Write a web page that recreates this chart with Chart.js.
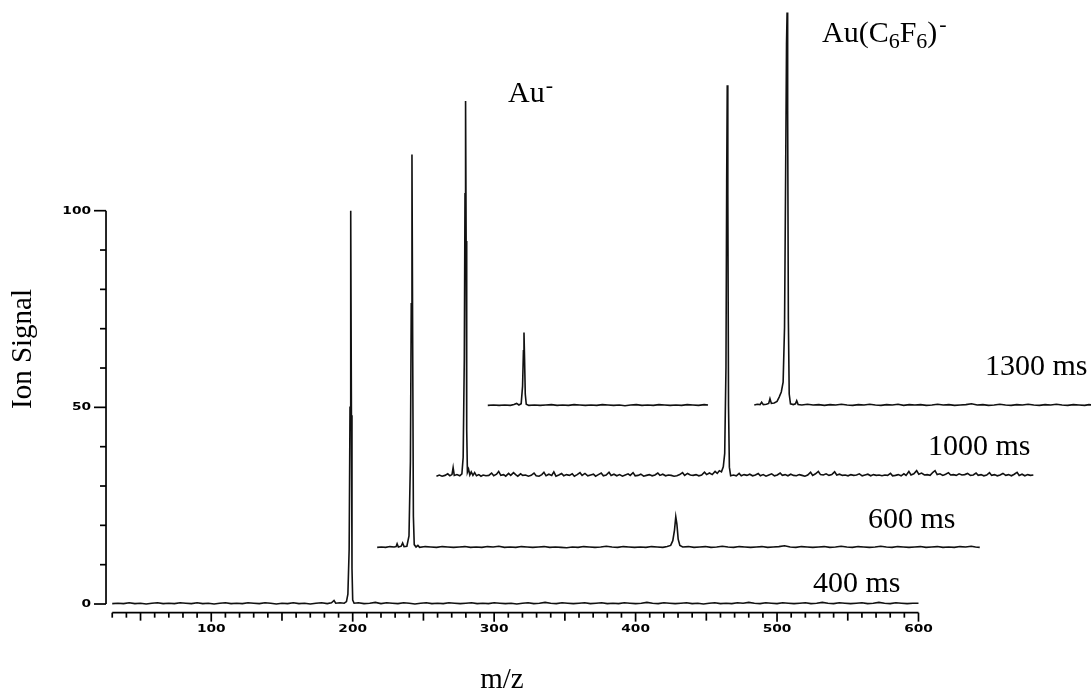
<!DOCTYPE html>
<html>
<head>
<meta charset="utf-8">
<title>Ion Signal vs m/z</title>
<script src="https://cdn.jsdelivr.net/npm/chart.js@4.4.1/dist/chart.umd.min.js"></script>
<style>
  html, body { margin: 0; padding: 0; background: #fff; }
  #wrap { width: 1091px; height: 689px; position: relative; }
</style>
</head>
<body>
<div id="wrap"><canvas id="spectrum"></canvas></div>
<script>
// one spectrum per storage time, [m/z, ion signal]
const traceLabels = ['400 ms', '600 ms', '1000 ms', '1300 ms'];

const trace400 = [
  [30,0.1],[34,0.2],[38,0.1],[42,0.3],[46,0.1],[50,0.2],[54,0.0],[58,0.2],[62,0.3],[66,0.1],
  [70,0.2],[74,0.1],[78,0.3],[82,0.2],[86,0.1],[90,0.3],[94,0.1],[98,0.2],[102,0.0],[106,0.2],
  [110,0.3],[114,0.1],[118,0.2],[122,0.1],[126,0.3],[130,0.2],[134,0.1],[138,0.3],[142,0.2],[146,0.0],
  [150,0.2],[154,0.1],[158,0.3],[162,0.1],[166,0.2],[170,0.0],[174,0.2],[178,0.3],[182,0.1],[185,0.3],
  [186.8,0.9],[188,0.2],[191,0.3],[194,0.2],[195.6,0.6],[196.6,2.5],[197.5,14],[198.1,50],[198.6,100],[199.1,48],
  [199.5,9],[200,1.0],[201,0.2],[204,0.3],[208,0.1],[212,0.2],[216,0.4],[220,0.1],[224,0.3],[228,0.2],
  [232,0.1],[236,0.3],[240,0.2],[244,0.0],[248,0.2],[252,0.3],[256,0.1],[260,0.2],[264,0.1],[268,0.3],
  [272,0.2],[276,0.1],[280,0.2],[284,0.3],[288,0.1],[292,0.2],[296,0.1],[300,0.3],[304,0.2],[308,0.1],
  [312,0.2],[316,0.0],[320,0.2],[324,0.3],[328,0.1],[332,0.2],[336,0.4],[340,0.2],[344,0.1],[348,0.3],
  [352,0.2],[356,0.1],[360,0.2],[364,0.3],[368,0.1],[372,0.2],[376,0.3],[380,0.1],[384,0.2],[388,0.1],
  [392,0.3],[396,0.2],[400,0.1],[404,0.2],[408,0.4],[412,0.2],[416,0.1],[420,0.3],[424,0.2],[428,0.1],
  [432,0.2],[436,0.3],[440,0.1],[444,0.2],[448,0.0],[452,0.2],[456,0.3],[460,0.1],[464,0.2],[468,0.1],
  [472,0.3],[476,0.2],[480,0.4],[484,0.2],[488,0.1],[492,0.3],[496,0.2],[500,0.1],[504,0.3],[508,0.2],
  [512,0.1],[516,0.2],[520,0.3],[524,0.1],[528,0.2],[532,0.4],[536,0.2],[540,0.1],[544,0.3],[548,0.2],
  [552,0.1],[556,0.2],[560,0.3],[564,0.1],[568,0.2],[572,0.4],[576,0.2],[580,0.1],[584,0.3],[588,0.2],
  [592,0.1],[596,0.2],[600,0.2]
];

const trace600 = [
  [174,0.1],[177,0.2],[180,0.1],[183,0.3],[186,0.2],[187.4,0.3],[188.1,1.0],[189,0.2],[191,0.4],[192,1.2],
  [193,0.3],[195,0.4],[196.5,3],[197.5,22],[198.1,62],[198.6,100],[199.1,52],[199.6,8],[200.2,0.8],[201.5,0.2],
  [202.8,0.6],[204,0.1],[208,0.3],[212,0.2],[216,0.1],[220,0.3],[224,0.2],[228,0.1],[232,0.2],[236,0.3],
  [240,0.1],[244,0.2],[248,0.1],[252,0.3],[256,0.2],[260,0.4],[264,0.1],[268,0.2],[272,0.1],[276,0.3],
  [280,0.2],[284,0.1],[288,0.2],[292,0.3],[296,0.1],[300,0.2],[304,0.1],[308,0.0],[312,0.2],[316,0.1],
  [320,0.3],[324,0.2],[328,0.1],[332,0.2],[336,0.4],[340,0.2],[344,0.1],[348,0.3],[352,0.2],[356,0.1],
  [360,0.2],[364,0.1],[368,0.3],[372,0.2],[376,0.1],[379,0.3],[381.5,0.6],[383,1.8],[384.2,4.5],[385.1,7.9],
  [385.9,6.0],[386.8,2.2],[388,0.6],[390,0.2],[394,0.3],[398,0.1],[402,0.2],[406,0.3],[410,0.1],[414,0.2],
  [418,0.4],[422,0.2],[426,0.1],[430,0.3],[434,0.2],[438,0.1],[442,0.2],[446,0.3],[450,0.1],[454,0.2],
  [458,0.3],[462,0.5],[466,0.2],[470,0.1],[474,0.3],[478,0.2],[482,0.1],[486,0.2],[490,0.3],[494,0.1],
  [498,0.2],[502,0.4],[506,0.2],[510,0.1],[514,0.3],[518,0.2],[522,0.1],[526,0.2],[530,0.4],[534,0.2],
  [538,0.1],[542,0.3],[546,0.2],[550,0.1],[554,0.2],[558,0.3],[562,0.1],[566,0.2],[570,0.3],[574,0.1],
  [578,0.2],[582,0.1],[586,0.3],[590,0.2],[594,0.4],[597,0.2],[600,0.1]
];

const trace1000 = [
  [178,0.2],[180,0.5],[182,0.2],[184,0.4],[186,0.8],[187.5,0.3],[189,0.6],[189.8,2.4],[190.6,0.4],[192.5,0.6],
  [194.5,0.3],[196,0.8],[196.9,5],[197.7,30],[198.2,72],[198.6,95.6],[199.0,60],[199.4,12],[199.9,1.2],[200.7,2.0],
  [201.6,0.5],[202.6,1.3],[203.8,0.4],[205,1.1],[206.3,0.3],[208,0.6],[209.5,0.2],[211,0.5],[213,0.3],[215,0.4],
  [217,1.0],[218.5,0.3],[220.5,0.7],[222,1.4],[223.5,0.4],[225.5,0.6],[227,0.2],[229,0.9],[230.5,0.4],[232.5,1.1],
  [234,0.6],[235.5,0.2],[237.5,0.8],[239,0.4],[241,0.5],[243,0.2],[245,0.4],[247,1.0],[248.5,0.3],[250.5,0.2],
  [252.5,0.6],[254,1.2],[255.5,0.3],[257.5,0.7],[259.5,0.4],[261,1.3],[262.5,0.2],[264.5,0.5],[266.5,0.9],[268,0.3],
  [270,0.6],[272,0.4],[274,0.8],[275.5,0.2],[277.5,0.6],[279.5,1.1],[281,0.4],[283,0.9],[285,0.3],[287,0.5],
  [289,0.7],[290.5,0.2],[292.5,0.6],[294.5,1.0],[296,0.3],[298,0.5],[300,1.2],[301.5,0.4],[303.5,0.7],[305.5,0.3],
  [307.5,0.6],[309.5,0.2],[311.5,0.5],[313.5,0.8],[315,0.4],[317,1.1],[318.5,0.3],[320.5,0.4],[322.5,0.7],[324.5,0.2],
  [326.5,0.4],[328.5,0.6],[330.5,0.3],[332.5,0.5],[334.5,1.0],[336,0.4],[338,0.7],[340,0.3],[342,0.5],[344,0.4],
  [346,0.2],[348,0.3],[350,0.6],[352,1.1],[353.5,0.4],[355.5,0.9],[357.5,0.5],[359.5,0.4],[361.5,0.6],[363.5,0.3],
  [365.5,0.5],[367.5,1.2],[369,0.6],[371,1.0],[373,0.6],[375,1.4],[376.5,0.9],[378,1.6],[379.5,1.3],[380.8,2.6],
  [381.8,6],[382.7,28],[383.2,75],[383.6,99.6],[384.0,72],[384.5,18],[385.1,2.5],[386,0.3],[388,0.5],[390,0.3],
  [392,0.9],[393.5,0.3],[395.5,0.6],[397.5,0.4],[399.5,0.7],[401.5,0.3],[403.5,0.5],[405.5,0.9],[407,0.3],[409,0.6],
  [411,0.2],[413,0.5],[415,0.8],[417,0.3],[419,0.5],[421,1.0],[422.5,0.4],[424.5,0.6],[426.5,0.3],[428.5,0.7],
  [430.5,0.4],[432.5,0.3],[434.5,0.6],[436.5,0.4],[438.5,0.2],[440.5,0.5],[442.5,1.2],[444,0.4],[446,0.8],[448,1.4],
  [449.5,0.6],[451.5,0.5],[453.5,0.8],[455.5,0.4],[457.5,0.6],[459.5,1.3],[461,0.5],[463,0.7],[465,0.4],[467,0.5],
  [469,0.3],[471,0.6],[473,0.4],[475,0.5],[477,0.8],[479,0.3],[481,0.5],[483,0.7],[485,0.3],[487,0.6],
  [489,0.4],[491,0.5],[493,0.3],[495,0.5],[497,0.4],[499,0.9],[500.5,0.3],[502.5,0.4],[504.5,0.6],[506.5,0.3],
  [508.5,0.8],[510,0.4],[512,1.4],[513.5,0.5],[515.5,0.8],[517.5,1.6],[519,0.7],[521,1.0],[523,0.5],[525,0.6],
  [527,0.4],[529,1.2],[530.5,1.6],[532,0.6],[534,0.8],[536,0.4],[538,0.7],[540,1.1],[541.5,0.5],[543.5,0.6],
  [545.5,0.4],[547.5,0.8],[549.5,0.5],[551.5,0.6],[553.5,0.9],[555.5,0.4],[557.5,0.5],[559.5,1.0],[561,0.4],[563,0.6],
  [565,0.3],[567,0.5],[569,1.1],[570.5,0.4],[572.5,0.6],[574.5,0.3],[576.5,0.5],[578.5,0.9],[580.5,0.4],[582.5,0.6],
  [584.5,0.3],[586.5,0.7],[588.5,1.2],[590,0.4],[592,0.7],[594,0.3],[596,0.6],[598,0.4],[600,0.5]
];

// the 1300 ms record has a gap between the two scanned windows
const trace1300 = [
  [173,0.1],[177,0.2],[181,0.1],[185,0.2],[189,0.1],[191.5,0.3],[193.4,0.6],[195,0.2],[196.6,0.5],[197.6,5],
  [198.2,14],[198.6,18.6],[199.0,12],[199.5,3],[200.2,0.4],[202,0.1],[206,0.2],[210,0.1],[214,0.2],[218,0.3],
  [222,0.1],[226,0.2],[230,0.1],[234,0.3],[238,0.2],[242,0.1],[246,0.2],[250,0.1],[254,0.3],[258,0.2],
  [262,0.1],[266,0.2],[270,0.0],[274,0.2],[278,0.3],[282,0.1],[286,0.2],[290,0.1],[294,0.3],[298,0.2],
  [302,0.1],[306,0.2],[310,0.1],[314,0.3],[318,0.2],[322,0.1],[326,0.3],[328.7,0.2],[345,null],
  [361.4,0.2],[363.5,0.4],[365.5,0.3],[366.6,0.9],[367.8,0.3],[370,0.4],[371.6,0.6],[372.5,1.8],[373.5,0.6],[375.5,0.7],
  [377.5,1.1],[379,2.2],[380.5,3.5],[381.8,6],[382.8,20],[383.6,60],[384.2,92],[384.6,100],[385.0,75],[385.5,22],
  [386.1,3],[387,0.5],[389,0.3],[390.5,0.5],[391.4,1.3],[392.4,0.3],[395,0.2],[399,0.4],[403,0.2],[407,0.3],
  [411,0.1],[415,0.3],[419,0.2],[423,0.4],[427,0.2],[431,0.1],[435,0.3],[439,0.2],[443,0.4],[447,0.2],
  [451,0.1],[455,0.3],[459,0.2],[463,0.4],[467,0.1],[471,0.3],[475,0.2],[479,0.3],[483,0.1],[487,0.2],
  [491,0.4],[495,0.2],[499,0.3],[503,0.1],[507,0.2],[511,0.3],[515,0.5],[519,0.2],[523,0.3],[527,0.1],
  [531,0.2],[535,0.4],[539,0.2],[543,0.1],[547,0.3],[551,0.2],[555,0.4],[559,0.2],[563,0.1],[567,0.3],
  [571,0.2],[575,0.4],[579,0.2],[583,0.1],[587,0.3],[591,0.2],[595,0.1],[598,0.3],[600,0.2]
];

const traces = [trace400, trace600, trace1000, trace1300];

// waterfall shift of each trace, in axis units (m/z, signal)
const traceShiftMz = [0, 43.3, 81.2, 122.5];
const traceShiftSignal = [0, 14.3, 32.3, 50.4];

const xTickLabels = ['100', '200', '300', '400', '500', '600'];
const yTickLabels = ['0', '50', '100'];
const xAxisFrom = 30, xAxisTo = 600;
const yAxisFrom = 0, yAxisTo = 100;

const datasets = traces.map(function(pts, i) {
  return {
    label: traceLabels[i],
    data: pts.map(function(p) {
      return { x: p[0] + traceShiftMz[i], y: p[1] === null ? null : p[1] + traceShiftSignal[i] };
    }),
    borderColor: '#111',
    borderWidth: 1.6,
    pointRadius: 0,
    tension: 0,
    fill: false,
    spanGaps: false
  };
});

// bold plotter-style numbers are wide, so stretch them sideways
function wideText(ctx, text, x, y, align) {
  ctx.save();
  ctx.font = 'bold 11px "DejaVu Sans", sans-serif';
  const stretch = 1.25;
  const w = ctx.measureText(text).width * stretch;
  let left = x;
  if (align === 'center') left = x - w / 2;
  if (align === 'right') left = x - w;
  ctx.translate(left, y);
  ctx.scale(stretch, 1);
  ctx.textAlign = 'left';
  ctx.textBaseline = 'middle';
  ctx.fillText(text, 0, 0);
  ctx.restore();
}

const axesPlugin = {
  id: 'plotAxes',
  afterDatasetsDraw: function(chart) {
    const ctx = chart.ctx;
    const x = chart.scales.x, y = chart.scales.y;
    ctx.save();
    ctx.strokeStyle = '#000';
    ctx.fillStyle = '#000';
    ctx.lineWidth = 1.7;

    // y axis sits a little left of the first m/z
    const ax = x.getPixelForValue(25.6);
    ctx.beginPath();
    ctx.moveTo(ax, y.getPixelForValue(yAxisFrom));
    ctx.lineTo(ax, y.getPixelForValue(yAxisTo));
    ctx.stroke();
    for (let v = yAxisFrom; v <= yAxisTo; v += 10) {
      const py = y.getPixelForValue(v);
      const len = v % 50 === 0 ? 12 : 6;
      ctx.beginPath();
      ctx.moveTo(ax - len, py);
      ctx.lineTo(ax, py);
      ctx.stroke();
    }
    yTickLabels.forEach(function(t) {
      wideText(ctx, t, ax - 15, y.getPixelForValue(Number(t)), 'right');
    });

    // x axis sits a little below zero signal
    const ay = y.getPixelForValue(-2.2);
    ctx.beginPath();
    ctx.moveTo(x.getPixelForValue(xAxisFrom), ay);
    ctx.lineTo(x.getPixelForValue(xAxisTo), ay);
    ctx.stroke();
    for (let m = xAxisFrom; m <= xAxisTo; m += 10) {
      const px = x.getPixelForValue(m);
      const len = m % 100 === 0 ? 9 : (m % 50 === 0 ? 8 : 5);
      ctx.beginPath();
      ctx.moveTo(px, ay);
      ctx.lineTo(px, ay + len);
      ctx.stroke();
    }
    xTickLabels.forEach(function(t) {
      wideText(ctx, t, x.getPixelForValue(Number(t)), ay + 16, 'center');
    });
    ctx.restore();
  }
};

const labelPlugin = {
  id: 'plotLabels',
  afterDraw: function(chart) {
    const ctx = chart.ctx;
    const serif = '"Liberation Serif", "Times New Roman", serif';
    ctx.save();
    ctx.fillStyle = '#000';
    ctx.textBaseline = 'alphabetic';
    ctx.textAlign = 'left';

    // axis titles
    ctx.font = '29px ' + serif;
    ctx.save();
    ctx.translate(31, 349);
    ctx.rotate(-Math.PI / 2);
    ctx.textAlign = 'center';
    ctx.fillText('Ion Signal', 0, 0);
    ctx.restore();
    ctx.textAlign = 'center';
    ctx.fillText('m/z', 502, 688);
    ctx.textAlign = 'left';

    // storage time next to each trace
    ctx.font = '30px ' + serif;
    ctx.fillText(traceLabels[0], 813, 592);
    ctx.fillText(traceLabels[1], 868, 528);
    ctx.fillText(traceLabels[2], 928, 455);
    ctx.fillText(traceLabels[3], 985, 375);

    // peak assignments
    let cx = 508;
    ctx.fillText('Au', cx, 102);
    cx += ctx.measureText('Au').width;
    ctx.font = '22px ' + serif;
    ctx.fillText('-', cx + 1, 92);

    const parts = [['Au(C', 0], ['6', 1], ['F', 0], ['6', 1], [')', 0], ['-', 2]];
    cx = 822;
    parts.forEach(function(p) {
      if (p[1] === 0) { ctx.font = '30px ' + serif; ctx.fillText(p[0], cx, 42); }
      if (p[1] === 1) { ctx.font = '22px ' + serif; ctx.fillText(p[0], cx, 48); }
      if (p[1] === 2) { ctx.font = '22px ' + serif; ctx.fillText(p[0], cx + 2, 31); }
      cx += ctx.measureText(p[0]).width;
    });
    ctx.restore();
  }
};

new Chart(document.getElementById('spectrum'), {
  type: 'line',
  data: { datasets: datasets },
  options: {
    responsive: true,
    maintainAspectRatio: false,
    animation: false,
    events: [],
    layout: { padding: 0 },
    plugins: {
      legend: { display: false },
      tooltip: { enabled: false }
    },
    scales: {
      x: { type: 'linear', min: -49.35, max: 721.96, display: false },
      y: { type: 'linear', min: -21.61, max: 153.57, display: false }
    }
  },
  plugins: [axesPlugin, labelPlugin]
});
</script>
</body>
</html>
